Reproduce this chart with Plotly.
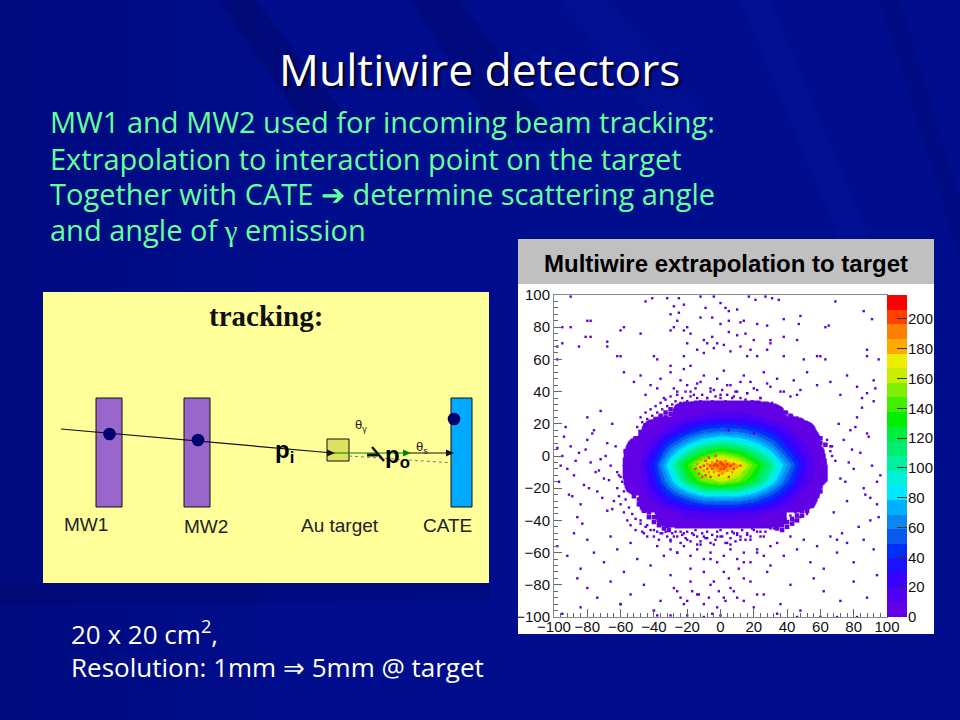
import plotly.graph_objects as go

W, H = 960, 720
def px(x): return x / W
def py(y): return 1 - y / H

# ---- data ----
grid_x = [-70,-60,-50,-40,-30,-20,-10,0,10,20,30,40,50,60,70]
grid_y = [-55,-45,-35,-25,-15,-5,5,15,25,35,45]
grid_z = [
 [0,0,0,0,0,0,0,0,0,0,0,0,0,0,0],
 [0,0,0,0,0,0,.2,.3,.3,.2,0,0,0,0,0],
 [0,0,0,.2,6,15,17,18,18,15,8,.4,0,0,0],
 [0,0,.2,16,40,60,75,78,76,65,45,24,3,0,0],
 [0,0,4,32,75,120,150,160,150,125,90,52,18,.8,0],
 [0,0,6,40,95,140,175,200,180,145,110,70,25,.8,0],
 [0,0,2,22,60,90,112,125,115,98,72,38,14,.6,0],
 [0,0,0,3,20,42,56,62,60,50,34,17,2,0,0],
 [0,0,0,0,.3,6,12,14,14,11,3,.2,0,0,0],
 [0,0,0,0,0,0,0,0,0,0,0,0,0,0,0],
 [0,0,0,0,0,0,0,0,0,0,0,0,0,0,0],
]
band_colors = ["#6200e6","#5000f0","#3a00ff","#1c10ff","#0030f8","#0a58f0","#0a88f0","#00b0ff",
               "#00e8ff","#00f0d8","#00f0a0","#00ee70","#00ee40","#00ee00","#40ee00","#80ee00",
               "#c8ee00","#f0ee00","#ffaa00","#ff8000","#ff4000","#ff0000"]
level_step = 216 / len(band_colors)
bar_levels = [level_step * (i + .5) for i in range(len(band_colors))]
ticks_main = [-100,-80,-60,-40,-20,0,20,40,60,80,100]
ticks_bar = [0,20,40,60,80,100,120,140,160,180,200]

stray_x = [-90,-45,-41,-32,-22,-28,-25,-12,-9,-4,0,3,5,10,17,21,27,31,35,-25,-30,-26,-12,-5,0,5,12,14,22,28,38,48,47,63,65,69,86,91,-80,-78,-95,-90,-60,-58,-81,-78,-48,-30,-28,-22,-18,-20,-10,-5,-2,5,10,15,20,30,30,38,46,-95,-98,-85,-68,-68,-62,-60,-20,-14,-10,-8,-4,2,6,12,16,18,22,28,38,50,58,60,63,88,88,95,-98,-40,-38,-30,-22,-18,
 -58,-52,-48,-42,-36,-30,-28,-24,-22,-18,-14,-10,-6,-2,2,6,10,14,18,22,26,30,34,38,44,48,52,58,66,72,76,82,88,92,-45,-38,-34,-26,-20,-16,-12,-8,-4,0,4,8,12,16,20,24,28,36,42,46,
 -98,-95,-92,-90,-88,-85,-82,-80,-78,-76,-74,-72,-70,-68,-66,-64,-62,-97,-94,-91,-87,-84,-81,-79,-77,-73,-71,-69,-67,-65,-63,-61,-96,-93,-89,-86,-83,-80,-75,-72,-68,-65,
 67,69,72,74,76,78,80,82,84,86,88,90,92,94,96,68,71,73,75,79,83,85,87,89,91,93,95,70,77,81,85,90,94,
 -98,-92,-88,-84,-80,-76,-70,-66,-62,-58,-54,-50,-46,-42,-38,-34,-30,-26,-22,-18,-14,-10,-6,-2,2,6,10,14,18,22,26,30,34,38,42,46,50,54,58,62,66,70,76,80,86,92,
 -48,-44,-40,-36,-32,-28,-24,-20,-16,-12,-8,-4,0,4,8,12,16,20,24,28,32,36,40,44,48,52,-30,-26,-22,-18,-14,-10,-6,-2,2,6,10,14,18,22,26,30,
 -86,-80,-74,-66,-60,-54,-46,-40,-36,-30,-26,-22,-18,-14,-10,-6,-2,2,5,8,11,14,18,22,28,36,42,48,56,62,72,80,88,94,-95,-84,-60,-40,-28,-24,-20,-17,-13,-10,-7,-4,-1,3,6,10,14,20,26,34,46,60,70,82,-38,-30,-20,-10,-5,0,5,10,20,30]
stray_y = [99,96,98,98,94,93,98,99,92,99,95,92,90,91,99,97,99,98,97,89,88,84,86,86,82,84,83,84,82,81,85,87,82,80,81,96,90,85,84,84,80,80,78,80,74,74,76,78,80,78,76,80,72,74,70,77,75,76,72,72,70,74,72,70,68,68,71,68,62,62,70,66,64,70,67,69,65,68,62,66,62,66,62,60,62,62,60,66,62,60,60,62,60,56,62,56,
 52,46,50,44,48,52,42,47,54,40,45,50,42,48,53,44,40,50,46,41,52,43,48,40,47,41,52,44,46,38,50,43,39,47,38,42,36,40,44,38,46,36,41,38,44,37,46,39,42,36,45,40,37,38,
 5,0,-8,6,-12,2,-18,10,-4,16,-22,-2,-14,8,-6,-28,-10,-16,12,-24,-3,-30,4,-20,14,-9,-26,0,-15,-33,6,-12,-6,18,-25,-38,-42,24,-10,28,-34,20,
 6,-3,-14,10,-28,16,-8,24,2,-20,14,-40,34,-30,-12,-35,20,-48,-16,4,-44,30,-24,12,-6,42,-38,-52,-4,18,36,-26,-16,
 -56,-62,-48,-70,-52,-60,-66,-50,-58,-72,-54,-64,-48,-68,-56,-62,-52,-60,-48,-70,-55,-50,-64,-50,-72,-55,-48,-66,-52,-60,-50,-68,-54,-62,-50,-58,-52,-66,-56,-70,-50,-60,-54,-66,-52,-58,
 -40,-43,-46,-48,-44,-50,-47,-52,-49,-53,-51,-55,-50,-54,-48,-52,-49,-46,-47,-44,-45,-42,-44,-40,-38,-36,-58,-60,-56,-62,-58,-64,-60,-66,-62,-58,-64,-60,-66,-58,-62,-56,
 -76,-82,-88,-78,-92,-86,-80,-96,-90,-74,-84,-92,-78,-86,-72,-80,-94,-88,-76,-84,-70,-90,-78,-86,-72,-92,-80,-96,-76,-84,-90,-78,-88,-74,-98,-94,-92,-96,-82,-88,-90,-84,-86,-92,-88,-78,-84,-90,-82,-88,-76,-94,-86,-98,-100,-100,-100,-100,-99,-99,-99,-100,-98,-99]
fringe_x = [-50,-48,-47,-45,-44,-42,-41,-39,-38,-36,-35,-33,-32,-30,-29,-27,-26,-24,-23,-21,-20,-18,-17,-15,-14,-12,-11,-9,-8,-6,-5,-3,-2,0,1,3,4,6,7,9,10,12,13,15,16,18,19,21,22,24,25,27,28,30,31,33,34,36,37,39,40,42,43,45,46,48,49,51,52,54,55,57,58,60,61,63,64,66,66,67,
 -52,-54,-56,-58,-57,-60,-59,-62,-58,-61,-57,-60,-55,-58,-53,-56,-51,-54,-48,-51,-45,-47,-42,-44,-38,-40,-35,-37,-32,-33,-29,-30,-26,-27,-23,-24,-20,-21,-17,-18,-14,-15,-11,-12,-8,-9,-5,-6,-2,-3,1,0,4,3,7,6,10,9,13,12,16,15,19,18,22,21,25,24,28,27,31,30,34,33,37,36,40,39,43,42,46,45,49,48,52,51,55,54,58,57,60,60,63,62,65,65]
fringe_y = [16,20,14,22,18,24,21,27,23,29,25,31,27,33,29,35,31,37,32,34,38,33,36,40,34,37,33,42,36,34,38,33,36,40,34,37,33,36,41,34,38,33,36,40,33,36,31,35,39,31,34,30,33,36,29,32,28,30,33,27,30,26,29,24,27,22,25,20,23,16,20,13,17,10,14,6,10,0,4,-4,
 10,6,3,0,-4,-3,-8,-6,-12,-13,-16,-20,-22,-25,-27,-30,-32,-35,-36,-40,-39,-43,-42,-46,-44,-47,-46,-50,-47,-50,-48,-52,-50,-47,-48,-53,-50,-47,-49,-54,-47,-51,-48,-53,-50,-46,-48,-55,-47,-51,-49,-54,-47,-52,-50,-46,-48,-54,-47,-51,-49,-53,-46,-50,-48,-52,-45,-50,-47,-43,-44,-50,-42,-47,-40,-45,-38,-43,-36,-41,-34,-39,-32,-37,-30,-35,-26,-32,-20,-28,-15,-23,-10,-18,-5,-12]
edge_x = [-30,-30,-33,-33,-36,-36,-39,-39,-42,-42,-45,-45,-48,-48,-51,-51,-54,-54,-57,
          36,36,39,39,42,42,45,45,48,48,51,51,54,54,57,57,60,60,63,
          -52,-52,-49,-49,-46,-46,-43,-43,-40,-40,-37,-37,-34,-34,-31,-31,-55,-55,
          60,58,55,55,52,52,49,49,46,46,43,43,40,40,37,37,34,60]
edge_y = [29,26,27,24,25,22,23,20,21,18,19,16,15,12,11,8,7,4,3,
          29,26,27,24,25,22,23,20,21,18,19,16,17,14,14,11,11,8,7,
          -22,-25,-27,-30,-31,-34,-35,-38,-38,-41,-40,-43,-42,-45,-43,-46,-18,-21,
          -22,-25,-28,-31,-31,-34,-34,-37,-37,-40,-39,-42,-41,-44,-43,-46,-45,-19]
speck_x = [-15,-14,-13,-12,-12,-11,-10,-10,-9,-9,-8,-8,-7,-7,-6,-6,-5,-5,-4,-4,-3,-3,-3,-2,-2,-1,-1,0,0,0,1,1,2,2,3,3,4,4,5,6,7,8,8,10,12]
speck_y = [-8,-5,-11,-7,-2,-13,-6,-9,-3,-12,-5,-8,-1,-10,-6,-13,-4,-8,-6,-10,0,-5,-7,-3,-6,-9,-12,-4,-6,-8,-5,-11,-6,-8,-3,-7,-5,-9,-13,-6,-10,-5,-8,-7,-6]
speck_hue = ["#ff3000","#ff8000","#ff4000"] * 15

labels = [("MW1",86,524),("MW2",206,526),("Au target",340,525),("CATE",447,525)]
body = ["MW1 and MW2 used for incoming beam tracking:",
        "Extrapolation to interaction point on the target",
        "Together with CATE ➔ determine scattering angle",
        "and angle of <span style=\"font-family:'Liberation Serif'\">γ</span> emission"]
body_y = [121,158,194,230]

# ---- figure ----
fig = go.Figure()
step = []
scale_colors = ["#ffffff"] + band_colors
for i, c in enumerate(scale_colors):
    step += [[i/len(scale_colors), c], [(i+1)/len(scale_colors), c]]
fig.add_trace(go.Heatmap(x=grid_x, y=grid_y, z=grid_z, showscale=False, hoverinfo="skip", zsmooth="best",
    colorscale=step, zmin=.5-level_step, zmax=.5+len(band_colors)*level_step,
    xaxis="x", yaxis="y"))
fig.add_trace(go.Scatter(x=stray_x+fringe_x, y=stray_y+fringe_y, mode="markers", hoverinfo="skip", cliponaxis=True,
    marker=dict(symbol="square", size=2.4, color="#5a00d8"), xaxis="x", yaxis="y"))
fig.add_trace(go.Scatter(x=edge_x, y=edge_y, mode="markers", hoverinfo="skip",
    marker=dict(symbol="square", size=4.5, color=band_colors[0]), xaxis="x", yaxis="y"))
fig.add_trace(go.Scatter(x=speck_x, y=speck_y, mode="markers", hoverinfo="skip",
    marker=dict(symbol="square", size=2.4, color=speck_hue), xaxis="x", yaxis="y"))

bar_step = []
for i, c in enumerate(band_colors):
    bar_step += [[i/len(band_colors), c], [(i+1)/len(band_colors), c]]
fig.add_trace(go.Heatmap(x=[0], y=bar_levels, z=[[v] for v in bar_levels], showscale=False,
    colorscale=bar_step, zmin=0, zmax=216, hoverinfo="skip", xaxis="x2", yaxis="y2"))

def rect(x0,y0,x1,y1,fill,line=None,lw=1,layer="below"):
    return dict(type="rect",xref="paper",yref="paper",x0=px(x0),x1=px(x1),y0=py(y0),y1=py(y1),
                fillcolor=fill,line=dict(color=line or fill,width=lw if line else 0),layer=layer)
def poly(pts,fill,layer="below"):
    p = "M"+" L".join(f"{px(x):.5f},{py(y):.5f}" for x,y in pts)+" Z"
    return dict(type="path",xref="paper",yref="paper",path=p,fillcolor=fill,line=dict(width=0),layer=layer)
def seg(x0,y0,x1,y1,color="black",w=1,dash="solid",layer="above"):
    return dict(type="line",xref="paper",yref="paper",x0=px(x0),x1=px(x1),y0=py(y0),y1=py(y1),
                line=dict(color=color,width=w,dash=dash),layer=layer)
def dot(cx,cy,r,color="#00006e"):
    return dict(type="circle",xref="paper",yref="paper",x0=px(cx-r),x1=px(cx+r),y0=py(cy-r),y1=py(cy+r),
                fillcolor=color,line=dict(width=0),layer="above")

shapes = [rect(0,0,W,H,"#000d8c")]
# background shading
for i,(x0,x1,c) in enumerate([(0,30,"rgba(0,0,40,.12)"),(30,70,"rgba(0,0,40,.10)"),(70,120,"rgba(0,0,40,.08)"),(120,180,"rgba(0,0,40,.05)"),(180,260,"rgba(0,0,40,.03)")]):
    shapes.append(rect(x0,0,x1,H,c))
shapes += [poly([(220,0),(255,0),(350,120),(300,120)],"rgba(0,0,50,.18)"),
           poly([(410,0),(460,0),(560,140),(500,140)],"rgba(0,0,60,.16)"),
           poly([(560,0),(610,0),(720,130),(660,130)],"rgba(20,40,200,.09)"),
           poly([(740,0),(770,0),(870,240),(840,240)],"rgba(30,50,220,.10)"),
           poly([(880,0),(900,0),(960,200),(960,260)],"rgba(0,0,70,.10)"),
           poly([(0,583),(490,583),(490,600),(0,604)],"rgba(0,0,50,.12)")]
# slide panels
shapes += [rect(43,292,489,583,"#ffff99"),
           rect(518,239,934,284,"#c0c0c0"),
           rect(518,284,934,634,"#ffffff"),
           ]
# detector sketch
shapes += [rect(96,398,122,507,"#9966cc","#111111",1,"above"),
           rect(184,398,210,507,"#9966cc","#111111",1,"above"),
           rect(451,398,472,507,"#00aaff","#111111",1,"above"),
           rect(327,439,349,461,"#e0e060","#111111",1,"above"),
           seg(61,429,333,453,"#111111",1.2),
           seg(349,456,454,463,"#777777",1,"dot"),
           seg(333,453,410,453,"#008000",1.2),
           seg(410,453,452,453,"#111111",1.2),
           poly([(335,453),(327,449.5),(327,456.5)],"#111111","above"),
           poly([(411,453),(403,449.5),(403,456.5)],"#008000","above"),
           poly([(454,453),(446,449.5),(446,456.5)],"#111111","above"),
           seg(367,455,378,455,"#111111",3),
           seg(372,447,384,461,"#111111",2.5),
           dot(109.5,434,6.3),dot(198,440,6.3),dot(454,419,6.3)]

ann = []
def text(x,y,s,size,color,font,anchor="left",shadow=None,weight=None):
    f = dict(size=size,color=color,family=font)
    if shadow: f["shadow"]=shadow
    if weight: f["weight"]=weight
    ann.append(dict(x=px(x),y=py(y),xref="paper",yref="paper",text=s,showarrow=False,
                    xanchor=anchor,yanchor="middle",font=f,borderpad=0))
COMIC = "Open Sans"
text(480,69,"Multiwire detectors",44.4,"white",COMIC,"center","2px 2px 2px #000022")
for s,y in zip(body,body_y):
    text(49,y,s,29,"#66ff99",COMIC)
text(70,633,"20 x 20 cm<sup>2</sup>,",26,"white",COMIC)
text(70,667,"Resolution: 1mm ⇒ 5mm @ target",26,"white",COMIC)
text(726,263,"Multiwire extrapolation to target",24,"black","Liberation Sans","center",weight="bold")
text(266,316,"tracking:",29,"#111111","Liberation Serif","center",weight="bold")
for s,x,y in labels:
    text(x,y,s,19,"#222222","Liberation Sans","center")
text(284,451,"p<sub>i</sub>",24,"black","Liberation Sans","center",weight="bold")
text(397,456,"p<sub>o</sub>",24,"black","Liberation Sans","center",weight="bold")
text(361,425,"θ<sub>γ</sub>",13,"#222222","Liberation Sans","center")
text(422,447,"θ<sub>s</sub>",13,"#222222","Liberation Sans","center")

axis_font = dict(family="Liberation Sans",size=15,color="#111111")
minor = dict(dtick=4,ticks="inside",ticklen=4,tickcolor="#666666",tickwidth=1)
fig.update_layout(
    width=W,height=H,autosize=False,margin=dict(l=0,r=0,t=0,b=0,pad=0,autoexpand=False),
    paper_bgcolor="#000d8c",plot_bgcolor="rgba(0,0,0,0)",showlegend=False,
    shapes=shapes,annotations=ann,
    xaxis=dict(domain=[px(554),px(887)],range=[-100,100],tickvals=ticks_main,ticks="inside",ticklen=8,
               tickcolor="#666666",showgrid=False,zeroline=False,showline=True,linecolor="#888888",
               tickfont=axis_font,minor=minor,mirror=True,anchor="y",tickangle=0,automargin=False,ticklabelstandoff=-4),
    yaxis=dict(domain=[py(617),py(295)],range=[-100,100],tickvals=ticks_main,ticks="inside",ticklen=8,
               tickcolor="#666666",showgrid=False,zeroline=False,showline=True,linecolor="#888888",
               tickfont=axis_font,minor=minor,mirror=True,anchor="x",automargin=False),
    xaxis2=dict(domain=[px(887),px(907)],visible=False,anchor="y2"),
    yaxis2=dict(domain=[py(617),py(295)],range=[0,216],side="right",tickvals=ticks_bar,ticks="inside",
                ticklen=10,tickcolor="#333333",showgrid=False,zeroline=False,showline=False,
                tickfont=axis_font,anchor="x2",automargin=False),
)
fig.write_html("out.html", config={"displayModeBar":False}, post_script="document.body.style.margin='0';")
